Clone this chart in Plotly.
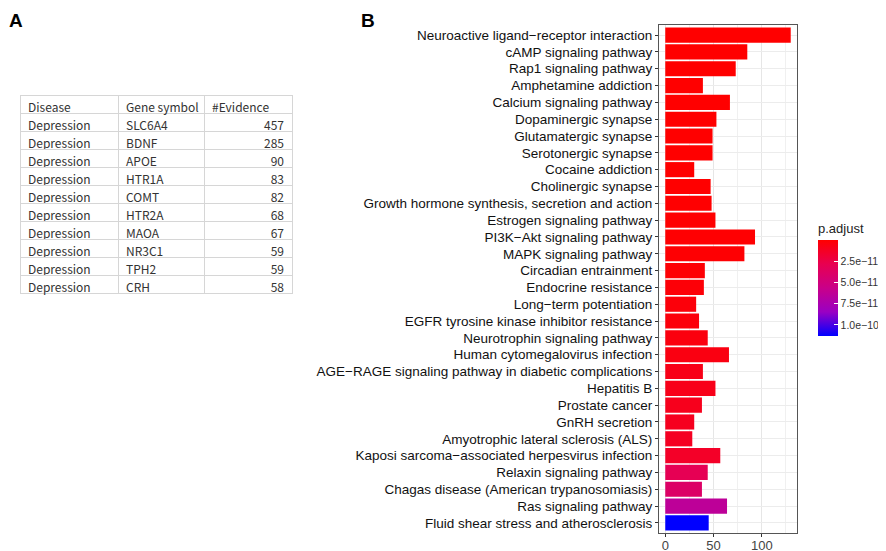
import plotly.graph_objects as go

# panel A table
diseases = ["Depression"] * 10
genes = ["SLC6A4", "BDNF", "APOE", "HTR1A", "COMT", "HTR2A", "MAOA", "NR3C1", "TPH2", "CRH"]
evidence = [457, 285, 90, 83, 82, 68, 67, 59, 59, 58]
table_header = ["Disease", "Gene\u00a0symbol", "#Evidence"]

# panel B enrichment (top to bottom)
pathways = [
    "Neuroactive ligand\u2212receptor interaction",
    "cAMP signaling pathway",
    "Rap1 signaling pathway",
    "Amphetamine addiction",
    "Calcium signaling pathway",
    "Dopaminergic synapse",
    "Glutamatergic synapse",
    "Serotonergic synapse",
    "Cocaine addiction",
    "Cholinergic synapse",
    "Growth hormone synthesis, secretion and action",
    "Estrogen signaling pathway",
    "PI3K\u2212Akt signaling pathway",
    "MAPK signaling pathway",
    "Circadian entrainment",
    "Endocrine resistance",
    "Long\u2212term potentiation",
    "EGFR tyrosine kinase inhibitor resistance",
    "Neurotrophin signaling pathway",
    "Human cytomegalovirus infection",
    "AGE\u2212RAGE signaling pathway in diabetic complications",
    "Hepatitis B",
    "Prostate cancer",
    "GnRH secretion",
    "Amyotrophic lateral sclerosis (ALS)",
    "Kaposi sarcoma\u2212associated herpesvirus infection",
    "Relaxin signaling pathway",
    "Chagas disease (American trypanosomiasis)",
    "Ras signaling pathway",
    "Fluid shear stress and atherosclerosis",
]
counts = [130, 85, 73, 39, 67, 53, 49, 49, 30, 47, 48, 52, 93, 82, 41,
          40, 32, 35, 44, 66, 39, 52, 38, 30, 28, 57, 44, 38, 64, 45]
p_adjust = [1.2e-20, 3.0e-17, 5.1e-16, 2.0e-15, 3.5e-15, 6.0e-15, 8.0e-15, 1.1e-14,
            4.0e-14, 9.0e-14, 2.0e-13, 4.0e-13, 6.0e-13, 9.0e-13, 1.5e-12, 2.5e-12,
            3.5e-12, 4.0e-12, 5.0e-12, 6.0e-12, 8.0e-12, 9.0e-12, 1.0e-11, 1.1e-11,
            1.2e-11, 1.4e-11, 3.0e-11, 3.9e-11, 6.4e-11, 1.13e-10]
cbar_ticks = [2.5e-11, 5.0e-11, 7.5e-11, 1.0e-10]
cbar_labels = ["2.5e\u221211", "5.0e\u221211", "7.5e\u221211", "1.0e\u221210"]

W, H = 886, 551
OFF = 8  # page body margin shifts the figure by this much


def px(x):
    return (x - OFF) / W


def py(y):
    return 1 - (y - OFF) / H


# red -> blue as ggplot does it (Lab), flipped so red sits on top of the bar
scale = [
    [0.0, "rgb(0,0,255)"],
    [0.25, "rgb(154,0,195)"],
    [0.5, "rgb(201,0,137)"],
    [0.75, "rgb(232,0,80)"],
    [1.0, "rgb(255,0,0)"],
]

table_font = dict(family="Noto Sans CJK SC", size=12, color="#333")

fig = go.Figure()

fig.add_trace(go.Table(
    domain=dict(x=[px(20), px(292)], y=[py(295), py(95)]),
    columnwidth=[98, 86, 88],
    header=dict(
        values=table_header,
        align="left",
        height=18,
        line=dict(color="#d6d6d6", width=1),
        fill=dict(color="white"),
        font=table_font,
    ),
    cells=dict(
        values=[diseases, genes, evidence],
        align=["left", "left", "right"],
        height=18,
        line=dict(color="#d6d6d6", width=1),
        fill=dict(color="white"),
        font=table_font,
    ),
))

fig.add_trace(go.Bar(
    x=counts,
    y=pathways,
    orientation="h",
    width=0.9,
    marker=dict(
        color=[-p for p in p_adjust],
        colorscale=scale,
        cmin=-1.13e-10,
        cmax=0,
        line=dict(width=0),
        colorbar=dict(
            title=dict(text="p.adjust", side="top", font=dict(size=13, color="#222")),
            x=px(818), xanchor="left", xpad=0,
            y=py(220), yanchor="top", ypad=0,
            thickness=20,
            len=116, lenmode="pixels",
            outlinewidth=0,
            tickvals=[-t for t in cbar_ticks],
            ticktext=cbar_labels,
            ticks="inside", ticklen=4, tickcolor="white",
            tickfont=dict(size=10.5, color="#333"),
        ),
    ),
    showlegend=False,
))

fig.update_layout(
    width=W, height=H,
    margin=dict(l=0, r=0, t=0, b=0),
    paper_bgcolor="white",
    plot_bgcolor="white",
    font=dict(family="Liberation Sans, Arial", color="#222"),
    xaxis=dict(
        domain=[px(659), px(797)],
        range=[-6.5, 136.5],
        tickvals=[0, 50, 100],
        ticks="outside", ticklen=3, tickcolor="#333",
        ticklabelstandoff=-3,
        tickfont=dict(size=13, color="#444"),
        showgrid=True, gridcolor="#e6e6e6", gridwidth=1,
        minor=dict(dtick=25, tick0=0, showgrid=True, gridcolor="#f0f0f0", gridwidth=0.5),
        zeroline=False,
        showline=True, linecolor="#555", linewidth=1, mirror=True,
    ),
    yaxis=dict(
        domain=[py(533), py(25)],
        categoryorder="array",
        categoryarray=pathways,
        range=[len(pathways) - 0.4, -0.6],
        ticks="outside", ticklen=3, tickcolor="#333",
        tickfont=dict(size=13.5, color="#111"),
        showgrid=True, gridcolor="#ececec", gridwidth=1,
        showline=True, linecolor="#555", linewidth=1, mirror=True,
    ),
    annotations=[
        dict(text="<b>A</b>", x=px(7), y=py(8), xref="paper", yref="paper",
             xanchor="left", yanchor="top", showarrow=False, font=dict(size=19, color="#000")),
        dict(text="<b>B</b>", x=px(359), y=py(8), xref="paper", yref="paper",
             xanchor="left", yanchor="top", showarrow=False, font=dict(size=19, color="#000")),
    ],
)

fig.write_html("out.html")
